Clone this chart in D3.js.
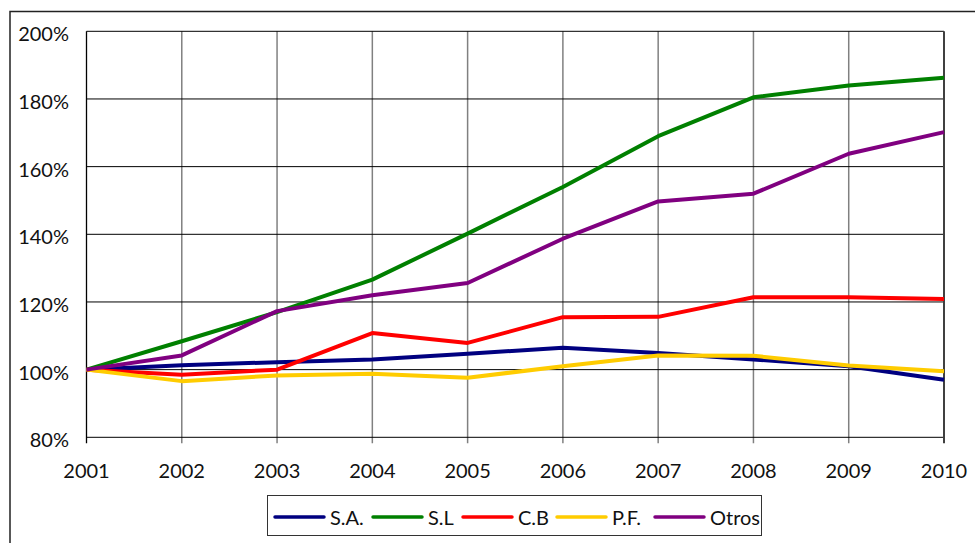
<!DOCTYPE html>
<html>
<head>
<meta charset="utf-8">
<script src="https://cdn.jsdelivr.net/npm/d3@7"></script>
<style>
  html, body { margin: 0; padding: 0; background: #fff; }
  svg { display: block; }
  text { font-family: Lato, "Open Sans", "Liberation Sans", sans-serif; fill: #111; }
</style>
</head>
<body>
<svg id="chart" width="975" height="543"></svg>
<script>
// Years on the horizontal axis
const years = [2001, 2002, 2003, 2004, 2005, 2006, 2007, 2008, 2009, 2010];

// Index (2001 = 100%) per legal form
const seriesNames = ["S.A.", "S.L", "C.B", "P.F.", "Otros"];
const seriesColors = ["#000080", "#008000", "#ff0000", "#ffcc00", "#800080"];
const saValues    = [100, 101.3, 102.2, 103.0, 104.7, 106.5, 104.9, 103.0, 101.0, 97.0];
const slValues    = [100, 108.4, 117.0, 126.6, 140.2, 154.0, 169.0, 180.5, 184.0, 186.3];
const cbValues    = [100, 98.5, 100.0, 110.8, 107.9, 115.5, 115.6, 121.4, 121.4, 120.9];
const pfValues    = [100, 96.6, 98.3, 98.8, 97.6, 101.0, 104.2, 104.1, 101.2, 99.5];
const otrosValues = [100, 104.2, 117.3, 122.0, 125.6, 138.7, 149.7, 152.0, 163.8, 170.2];

// Y axis ticks (percent)
const yTicks = [80, 100, 120, 140, 160, 180, 200];

const allValues = [saValues, slValues, cbValues, pfValues, otrosValues];
const series = seriesNames.map((name, i) => ({
  name, color: seriesColors[i],
  points: years.map((y, j) => ({ year: y, value: allValues[i][j] }))
}));

const svg = d3.select("#chart");
const plot = { left: 86.5, right: 944, top: 31.3, bottom: 437.3 };

const x = d3.scaleLinear().domain([2001, 2010]).range([plot.left, plot.right]);
const y = d3.scaleLinear().domain([80, 200]).range([plot.bottom, plot.top]);

// Outer chart frame (only left and top edges fall inside the view)
svg.append("path")
  .attr("d", `M10,543 L10,11.5 L975,11.5`)
  .attr("fill", "none").attr("stroke", "#222").attr("stroke-width", 1.5);

// Vertical gridlines (gray), extended below the axis as tick marks
svg.append("g").selectAll("line").data(years.slice(1, -1)).join("line")
  .attr("x1", d => x(d)).attr("x2", d => x(d))
  .attr("y1", plot.top).attr("y2", plot.bottom + 6)
  .attr("stroke", "#808080").attr("stroke-width", 1.5);

// Horizontal gridlines (black)
svg.append("g").selectAll("line").data(yTicks).join("line")
  .attr("x1", plot.left).attr("x2", plot.right)
  .attr("y1", d => y(d)).attr("y2", d => y(d))
  .attr("stroke", "#000").attr("stroke-width", 1);

// Plot borders
svg.append("line")
  .attr("x1", plot.left).attr("x2", plot.left)
  .attr("y1", plot.top).attr("y2", plot.bottom + 6)
  .attr("stroke", "#000").attr("stroke-width", 1.3);
svg.append("line")
  .attr("x1", plot.right).attr("x2", plot.right)
  .attr("y1", plot.top).attr("y2", plot.bottom + 6)
  .attr("stroke", "#404040").attr("stroke-width", 2);

// Y axis labels
svg.append("g").selectAll("text").data(yTicks).join("text")
  .attr("x", 69).attr("y", d => y(d) + 10)
  .attr("text-anchor", "end")
  .attr("font-size", 20)
  .text(d => d + "%");

// X axis labels
svg.append("g").selectAll("text").data(years).join("text")
  .attr("x", d => x(d)).attr("y", 478)
  .attr("text-anchor", "middle")
  .attr("font-size", 20)
  .text(d => d);

// Series lines
const line = d3.line().x(d => x(d.year)).y(d => y(d.value));
svg.append("g").selectAll("path").data(series).join("path")
  .attr("d", d => line(d.points))
  .attr("fill", "none")
  .attr("stroke", d => d.color)
  .attr("stroke-width", 4)
  .attr("stroke-linejoin", "round");

// Legend
const legend = svg.append("g");
legend.append("rect")
  .attr("x", 267.5).attr("y", 495.5).attr("width", 494).attr("height", 40)
  .attr("fill", "#fff").attr("stroke", "#333").attr("stroke-width", 1);
const legendX = [275, 373, 463, 557, 655];
const items = legend.selectAll("g").data(series).join("g")
  .attr("transform", (d, i) => `translate(${legendX[i]},517)`);
items.append("line")
  .attr("x1", 0).attr("x2", 49).attr("y1", 0).attr("y2", 0)
  .attr("stroke", d => d.color).attr("stroke-width", 3.5)
  .attr("stroke-linecap", "round");
items.append("text")
  .attr("x", 55).attr("y", 8)
  .attr("font-size", 20)
  .text(d => d.name);
</script>
</body>
</html>
